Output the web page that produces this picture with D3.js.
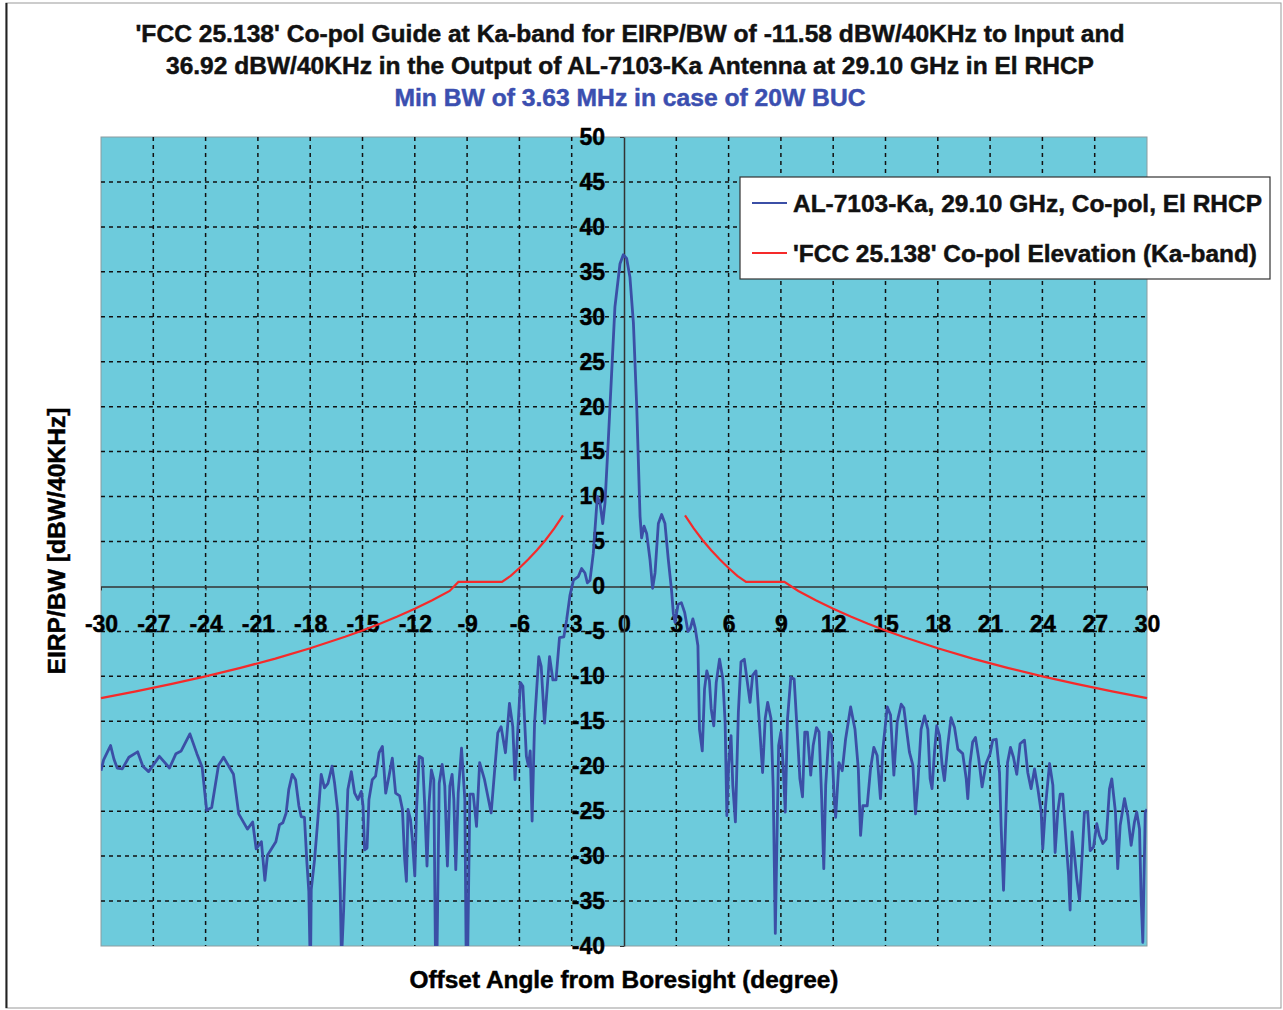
<!DOCTYPE html>
<html><head><meta charset="utf-8">
<script src="https://cdn.jsdelivr.net/npm/d3@7"></script>
<style>
body{margin:0;background:#fff}
svg{display:block}
text{font-family:"Liberation Sans",Arial,sans-serif;font-weight:bold}
</style>
</head><body>
<svg id="c" width="1283" height="1010"></svg>
<script>
// ---------- data ----------
const titleLines = [
  "'FCC 25.138' Co-pol Guide at Ka-band for EIRP/BW of -11.58 dBW/40KHz to Input and",
  "36.92 dBW/40KHz in the Output of AL-7103-Ka Antenna at 29.10 GHz in El RHCP"
];
const subtitle = "Min BW of 3.63 MHz in case of 20W BUC";
const xTitle = "Offset Angle from Boresight (degree)";
const yTitle = "EIRP/BW [dBW/40KHz]";
const xTicks = [-30,-27,-24,-21,-18,-15,-12,-9,-6,-3,0,3,6,9,12,15,18,21,24,27,30];
const yTicks = [-40,-35,-30,-25,-20,-15,-10,-5,0,5,10,15,20,25,30,35,40,45,50];
const seriesNames = ["AL-7103-Ka, 29.10 GHz, Co-pol, El RHCP", "'FCC 25.138' Co-pol Elevation (Ka-band)"];

const angles = [
-30.0,-29.85,-29.6,-29.45,-29.26,-29.07,-28.78,-28.4,-27.9,-27.6,-27.27,-26.65,-26.07,-25.7,-25.4,-24.9,-24.5,-24.2,-23.94,-23.65,-23.26,-22.97,-22.4,-22.1,-21.6,-21.3,-21.1,-20.8,-20.6,-20.45,-19.97,
-19.76,-19.57,-19.38,-19.23,-19.03,-18.84,-18.65,-18.52,-18.33,-18.19,-18.08,-18.02,-17.97,-17.94,-17.75,-17.56,-17.37,-17.18,-16.98,-16.75,
-16.6,-16.41,-16.28,-16.22,-16.17,-16.08,-15.97,-15.84,-15.64,-15.45,-15.26,-15.07,-14.97,-14.88,-14.74,-14.63,-14.44,-14.25,-14.05,-13.86,
-13.67,-13.48,-13.29,-13.1,-12.87,-12.71,-12.58,-12.48,-12.39,-12.25,-12.14,-12.0,-11.9,-11.75,-11.56,-11.43,-11.3,-11.18,-11.05,-10.91,
-10.82,-10.72,-10.6,-10.43,-10.28,-10.13,-9.99,-9.86,-9.76,-9.65,-9.51,-9.32,-9.13,-9.06,-8.96,-8.84,-8.65,-8.46,-8.28,
-8.0,-7.62,-7.43,-7.24,-7.05,-6.8,-6.57,-6.38,-6.25,-6.1,-5.94,-5.8,-5.6,-5.48,-5.38,-5.27,-5.13,-4.89,-4.75,-4.56,-4.27,-4.08,-3.9,
-3.7,-3.45,-3.29,-3.1,-2.9,-2.62,-2.43,-2.24,-2.1,-1.95,-1.76,-1.53,-1.38,-1.22,-1.09,-0.9,-0.71,-0.52,-0.23,-0.04,
0.15,0.34,0.54,0.73,0.92,1.01,1.15,1.3,1.49,1.64,1.78,1.97,2.16,2.35,2.54,2.73,2.83,2.93,3.1,3.29,
3.48,3.67,3.8,3.95,4.09,4.24,4.33,4.49,4.62,4.75,4.9,5.0,5.15,5.29,5.48,5.67,5.8,5.9,6.0,6.14,
6.24,6.39,6.56,6.71,6.9,7.1,7.23,7.38,7.57,7.76,7.95,8.1,8.24,8.43,8.56,8.68,8.75,8.87,9.0,9.13,
9.25,9.38,9.57,9.76,9.95,10.09,10.24,10.37,10.52,10.71,10.85,11.04,11.19,11.34,11.46,11.57,11.76,11.9,12.05,12.14,
12.33,12.52,12.71,13.0,13.25,13.44,13.57,13.7,13.95,14.14,14.33,14.52,14.71,14.85,15.1,15.29,15.48,15.67,15.9,16.05,
16.18,16.37,16.57,16.72,16.85,17.04,17.24,17.43,17.56,17.67,17.81,17.94,18.1,18.25,18.38,18.57,18.76,18.96,19.15,19.43,
19.63,19.72,19.85,20.0,20.16,20.35,20.54,20.77,21.0,21.15,21.35,21.54,21.63,21.77,21.88,22.0,22.17,22.34,22.53,22.72,
22.97,23.16,23.35,23.55,23.74,23.93,24.02,24.18,24.41,24.6,24.73,24.88,25.02,25.17,25.36,25.5,25.59,25.7,25.84,25.97,
26.13,26.28,26.41,26.6,26.74,26.93,27.12,27.27,27.46,27.66,27.85,27.98,28.19,28.32,28.46,28.71,28.9,29.09,29.28,29.41,
29.57,29.66,29.76,29.9,30.0
];
const eirp = [
-20.5,-19.3,-18.3,-17.7,-19.2,-20.2,-20.3,-19.0,-18.4,-20.0,-20.6,-18.9,-20.2,-18.6,-18.3,-16.4,-18.6,-20.1,-24.9,-24.6,-19.9,-19.0,-20.9,-25.3,-27.0,-26.2,-29.2,-28.4,-32.7,-29.9,-28.4,
-26.5,-26.3,-25.2,-22.6,-20.9,-21.5,-24.4,-25.6,-25.7,-30.7,-33.9,-40.0,-40.0,-33.7,-30.4,-25.9,-20.9,-22.4,-21.9,-20.0,
-21.9,-25.2,-33.7,-40.0,-40.0,-35.9,-29.3,-22.6,-20.6,-23.0,-23.7,-22.8,-24.4,-29.3,-29.1,-23.7,-21.5,-21.1,-18.5,-17.8,
-23.0,-21.1,-19.1,-23.0,-23.3,-24.8,-30.4,-32.8,-24.8,-25.9,-28.1,-32.2,-24.8,-18.9,-19.1,-24.4,-31.1,-24.1,-20.4,-21.5,
-40.0,-40.0,-21.9,-19.8,-22.2,-31.1,-22.2,-20.9,-23.7,-31.5,-23.0,-18.0,-23.7,-40.0,-40.0,-23.1,-23.1,-26.7,-19.6,
-21.5,-25.2,-20.7,-16.3,-15.6,-18.5,-13.0,-15.6,-21.5,-16.3,-10.7,-11.1,-18.9,-20.0,-18.3,-26.1,-15.2,-7.8,-8.9,-15.2,-7.8,-10.4,-10.4,
-5.7,-5.6,-3.7,-1.0,0.7,1.1,2.0,1.5,0.4,0.7,3.7,10.0,9.3,7.0,9.3,16.3,23.7,31.1,35.9,36.9,
36.5,34.4,29.3,20.0,7.8,5.4,6.7,5.9,3.0,-0.2,1.5,7.0,8.0,7.0,3.0,-0.5,-3.0,-4.0,-2.0,-1.8,
-2.9,-5.0,-4.7,-3.6,-4.7,-6.6,-15.9,-18.3,-11.4,-9.4,-10.5,-13.6,-15.5,-10.7,-8.1,-10.3,-15.1,-25.5,-19.9,-16.6,
-22.1,-26.2,-14.0,-8.4,-8.1,-11.0,-12.9,-9.9,-9.4,-15.1,-20.7,-14.7,-12.9,-14.7,-22.5,-38.6,-30.7,-17.7,-16.2,-19.9,
-25.1,-14.7,-10.1,-10.3,-16.6,-21.4,-23.4,-16.2,-16.2,-21.0,-17.7,-15.7,-16.2,-23.6,-31.4,-22.1,-16.2,-16.6,-23.3,-25.7,
-19.6,-20.5,-17.0,-13.4,-15.9,-20.3,-27.7,-24.4,-24.4,-20.3,-17.9,-18.8,-23.6,-18.1,-13.4,-14.3,-21.0,-15.1,-13.1,-13.5,
-15.5,-18.4,-19.9,-25.3,-22.1,-15.9,-14.4,-15.9,-21.4,-22.5,-18.4,-15.5,-16.6,-19.9,-21.6,-17.7,-14.6,-15.7,-18.1,-18.6,
-21.4,-23.6,-19.6,-17.3,-16.8,-19.2,-22.3,-19.7,-18.6,-17.1,-17.0,-20.7,-26.6,-33.8,-27.0,-19.6,-17.9,-19.0,-20.9,-17.5,
-17.1,-20.7,-22.5,-20.3,-22.5,-25.1,-29.2,-24.4,-19.7,-22.1,-29.6,-25.1,-23.1,-23.1,-28.4,-32.1,-36.0,-27.3,-29.9,-32.5,
-34.9,-29.9,-25.1,-25.1,-29.4,-29.0,-26.4,-27.7,-28.6,-28.1,-22.5,-21.4,-25.1,-31.4,-26.6,-23.6,-25.5,-28.8,-26.2,-25.1,
-27.0,-34.4,-39.6,-25.1,-24.8
];

const maskLeftAngles = [-30,-28,-26,-24,-22,-20,-18,-16,-15,-14,-13,-12,-11,-10,-9.5,-7,-6.5,-6,-5.5,-5,-4.5,-4,-3.5];
const maskLeftValues = [-12.43,-11.68,-10.87,-10.01,-9.06,-8.03,-6.88,-5.6,-4.9,-4.15,-3.35,-2.48,-1.53,-0.5,0.5,0.5,1.18,2.05,2.99,4.03,5.17,6.45,7.9];
const maskRightAngles = [3.5,4,4.5,5,5.5,6,6.5,7,9.2,10,11,12,13,14,15,16,18,20,22,24,26,28,30];
const maskRightValues = [7.9,6.45,5.17,4.03,2.99,2.05,1.18,0.5,0.5,-0.5,-1.53,-2.48,-3.35,-4.15,-4.9,-5.6,-6.88,-8.03,-9.06,-10.01,-10.87,-11.68,-12.43];

// ---------- drawing ----------
const svg = d3.select("#c");
const L = 101, R = 1147, T = 137, B = 946;
const x = d3.scaleLinear().domain([-30,30]).range([L,R]);
const y = d3.scaleLinear().domain([-40,50]).range([B,T]);
const BLUE = "#3b4fa6", RED = "#f52a2a", BG = "#6dcbdc";
const FONT = '"Liberation Sans",Arial,sans-serif';

function boldify(sel, color){
  sel.attr("font-family",FONT).attr("font-weight","bold").attr("fill",color)
     .attr("stroke",color).attr("stroke-width",0.45);
}

// outer frame
svg.append("rect").attr("x",6).attr("y",3).attr("width",1275).attr("height",1005)
  .attr("fill","#fff").attr("stroke","#999").attr("stroke-width",1);
svg.append("line").attr("x1",6.5).attr("x2",6.5).attr("y1",3).attr("y2",1008).attr("stroke","#222").attr("stroke-width",2);

// plot area
svg.append("rect").attr("x",L).attr("y",T).attr("width",R-L).attr("height",B-T)
  .attr("fill",BG).attr("stroke","#8c9ca0").attr("stroke-width",1);

// grid
const g = svg.append("g");
g.selectAll("line.vg").data(xTicks.filter(d=>d!==0 && d>-30 && d<30)).join("line")
  .attr("x1",d=>x(d)).attr("x2",d=>x(d)).attr("y1",T).attr("y2",B)
  .attr("stroke","#111").attr("stroke-width",1.5).attr("stroke-dasharray","4,4");
g.selectAll("line.hg").data(yTicks.filter(d=>d!==0 && d>-40 && d<50)).join("line")
  .attr("x1",L).attr("x2",R).attr("y1",d=>y(d)).attr("y2",d=>y(d))
  .attr("stroke","#111").attr("stroke-width",1.5).attr("stroke-dasharray","4,4");

// axes crossing at zero
const xAxis = d3.axisBottom(x).tickValues(xTicks).tickFormat(d=>String(d)).tickSizeInner(4).tickSizeOuter(0).tickPadding(25);
const ax = svg.append("g").attr("transform",`translate(0,${y(0)})`).call(xAxis);
ax.select(".domain").attr("stroke","#333").attr("stroke-width",1.5);
ax.selectAll(".tick line").attr("stroke","#333");
ax.selectAll("text").attr("font-size",23).call(boldify,"#000");

const yAxis = d3.axisLeft(y).tickValues(yTicks).tickFormat(d=>String(d)).tickSizeInner(4).tickSizeOuter(0).tickPadding(15);
const ay = svg.append("g").attr("transform",`translate(${x(0)},0)`).call(yAxis);
ay.select(".domain").attr("stroke","#333").attr("stroke-width",1.5);
ay.selectAll(".tick line").attr("stroke","#333");
ay.selectAll("text").attr("font-size",23).call(boldify,"#000");

// clip
svg.append("clipPath").attr("id","pc").append("rect").attr("x",L).attr("y",T).attr("width",R-L).attr("height",B-T);

const line = d3.line().x(d=>x(d[0])).y(d=>y(d[1]));
const pts = angles.map((a,i)=>[a,eirp[i]]);
svg.append("path").attr("clip-path","url(#pc)").attr("d",line(pts))
  .attr("fill","none").attr("stroke",BLUE).attr("stroke-width",2.8).attr("stroke-linejoin","round");
svg.append("path").attr("d",line(maskLeftAngles.map((a,i)=>[a,maskLeftValues[i]])))
  .attr("fill","none").attr("stroke",RED).attr("stroke-width",2.2);
svg.append("path").attr("d",line(maskRightAngles.map((a,i)=>[a,maskRightValues[i]])))
  .attr("fill","none").attr("stroke",RED).attr("stroke-width",2.2);

// titles
const tl = [[titleLines[0],630,42,989,"#111"],[titleLines[1],630,74,928,"#111"],[subtitle,630,106,471,"#3b4fb0"]];
tl.forEach(([t,cx,by,w,c])=>{
  svg.append("text").attr("x",cx).attr("y",by).attr("text-anchor","middle").attr("font-size",23)
    .attr("textLength",w).attr("lengthAdjust","spacingAndGlyphs").text(t).call(boldify,c);
});

// axis titles
svg.append("text").attr("x",624).attr("y",988).attr("text-anchor","middle").attr("font-size",23)
  .attr("textLength",429).attr("lengthAdjust","spacingAndGlyphs").text(xTitle).call(boldify,"#000");
svg.append("text").attr("transform","translate(65,541) rotate(-90)").attr("text-anchor","middle").attr("font-size",23)
  .attr("textLength",267).attr("lengthAdjust","spacingAndGlyphs").text(yTitle).call(boldify,"#000");

// legend
const lg = svg.append("g");
lg.append("rect").attr("x",740).attr("y",177).attr("width",530).attr("height",102)
  .attr("fill","#fff").attr("stroke","#333").attr("stroke-width",1.2);
const legColors = [BLUE, RED];
const legWidths = [469, 464];
seriesNames.forEach((n,i)=>{
  const yy = 203 + i*50;
  lg.append("line").attr("x1",752).attr("x2",787).attr("y1",yy).attr("y2",yy).attr("stroke",legColors[i]).attr("stroke-width",2);
  lg.append("text").attr("x",793).attr("y",yy+9).attr("font-size",23)
    .attr("textLength",legWidths[i]).attr("lengthAdjust","spacingAndGlyphs").text(n).call(boldify,"#111");
});
</script>
</body></html>
